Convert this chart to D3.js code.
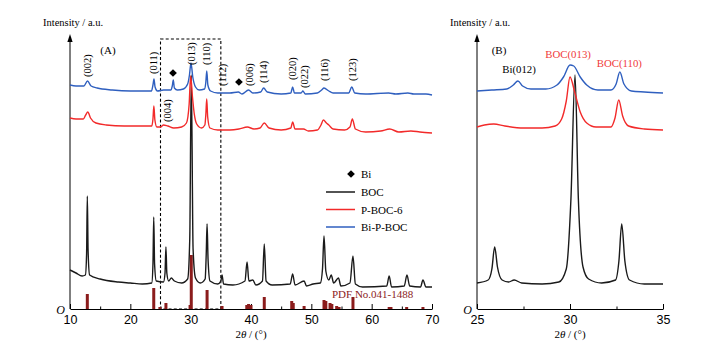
<!DOCTYPE html>
<html>
<head>
<meta charset="utf-8">
<script src="https://cdn.jsdelivr.net/npm/d3@7"></script>
<style>
  body { margin: 0; background: #fff; }
  svg { display: block; font-family: "Liberation Serif", "DejaVu Serif", serif; }
  .axis text { font-size: 12.5px; fill: #000; }
  .axis path, .axis line { stroke: #000; stroke-width: 1; }
</style>
</head>
<body>
<svg width="704" height="350"></svg>
<script>
// series values: [2theta, intensity a.u.]
const bocA = [[10,39],[11,36],[12,33],[12.55,34],[12.75,55],[12.87,113],[13.0,58],[13.25,34],[15,30],[18,27],[20,26],[22,25],[23.55,26],[23.75,45],[23.88,92],[24.02,45],[24.3,28],[25.5,27],[25.75,36],[25.9,62],[26.05,36],[26.35,28],[26.8,31],[27.3,28],[28.5,26],[29.5,30],[29.85,70],[30.1,234],[30.4,60],[30.8,31],[31.6,26],[32.4,30],[32.58,55],[32.72,85],[32.88,50],[33.2,28],[34.5,25],[35.0,28],[35.2,34],[35.45,25],[37,24],[39.0,28],[39.35,47],[39.65,28],[40.3,29],[40.8,24],[41.9,28],[42.2,65],[42.5,28],[43.5,24],[46.5,25],[46.9,35],[47.3,24],[48.8,28],[49.2,23],[50.3,25],[51.5,26],[51.85,40],[52.1,73],[52.4,38],[52.9,29],[53.3,34],[53.7,26],[54.5,31],[54.9,23],[56.4,26],[56.9,53],[57.3,25],[58.5,22],[62.5,23],[62.9,33],[63.3,22],[65.4,23],[65.85,34],[66.3,23],[68.1,22],[68.5,29],[69,22],[70,22]];
const pbocA = [[10,191],[11,190],[12.2,190],[12.6,194],[12.95,197],[13.4,191],[14.3,186],[16,184],[19,183],[22,183],[23.55,183],[23.75,190],[23.9,203],[24.07,189],[24.4,182],[25.0,182],[25.5,184],[26.2,183],[27.2,181],[28.5,182],[29.3,186],[29.75,205],[30.0,233],[30.3,212],[30.6,195],[31.0,185],[31.8,181],[32.35,184],[32.52,195],[32.66,210],[32.82,192],[33.2,181],[34.5,179],[36.5,179],[38,180],[39.4,182],[40.5,180],[41.5,181],[42.2,186],[43,181],[45,179],[46.6,181],[46.9,187],[47.3,180],[48.7,180],[49.5,178],[51,179],[51.6,184],[52.0,189],[52.5,186],[52.9,184],[53.6,180],[55.5,179],[56.4,182],[56.8,190],[57.3,180],[59,177],[61.5,178],[63,180],[64.5,177],[66.5,178],[68,177],[70,176]];
const bipbocA = [[10,224],[11,223],[12.3,223],[12.9,228],[13.5,223],[14.5,221],[17,219],[20,218],[23.5,218],[23.75,224],[23.92,230],[24.1,222],[24.5,218],[25.5,219],[26.7,219],[26.95,223],[27.12,229],[27.3,221],[27.8,219],[28.8,220],[29.5,225],[29.8,234],[30.05,246],[30.35,232],[30.8,222],[31.4,219],[32.3,220],[32.5,226],[32.67,238],[32.85,224],[33.3,218],[34.5,216],[36.5,216],[37.9,217],[38.5,215],[39.6,219],[40.3,216],[41.6,217],[42.1,221],[42.7,217],[45,215],[46.6,216],[46.9,222],[47.2,216],[48.3,216],[48.6,218],[49.0,215],[51,216],[51.7,219],[52.1,221],[52.9,218],[53.6,216],[56.2,216],[56.7,222],[57.2,216],[59,215],[62.8,216],[64,215],[66,216],[67,215],[69,215],[70,214]];
const pdfBars = [[12.87,15],[23.88,21],[24.9,2],[25.9,6],[29.9,4],[30.1,54],[32.72,19],[35.2,3],[39.3,4],[39.6,5],[40.0,4],[42.2,12],[46.75,8],[47.0,6],[48.8,3],[52.1,9],[52.4,8],[53.1,6],[53.4,5],[54.2,3],[54.6,2],[56.9,12],[62.9,2],[63.2,2],[65.8,2],[68.5,2]];

const bocB = [[25,26],[25.6,29],[25.8,40],[25.95,62],[26.1,42],[26.35,29],[26.7,27],[27.0,29],[27.4,26],[28.5,25],[29.4,27],[29.8,40],[30.05,110],[30.27,234],[30.45,110],[30.7,42],[31.0,30],[31.7,26],[32.45,29],[32.63,48],[32.78,85],[32.95,48],[33.2,29],[34,25],[35,25]];
const pbocB = [[25,182],[25.4,184],[25.9,185],[26.5,183],[27.5,181],[28.5,181],[29.2,183],[29.55,190],[29.8,208],[30.0,232],[30.25,217],[30.55,197],[30.9,186],[31.4,182],[32.2,182],[32.42,191],[32.62,209],[32.83,193],[33.15,183],[34,180],[35,179]];
const bipbocB = [[25,218],[25.8,219],[26.6,220],[26.95,224],[27.2,228],[27.45,223],[27.9,220],[28.7,220],[29.3,224],[29.65,232],[30.0,244],[30.2,243],[30.55,232],[30.9,224],[31.5,219],[32.2,219],[32.48,225],[32.68,237],[32.9,225],[33.3,218],[34,217],[35,216]];

// annotations: [label, 2theta, intensity at bottom of the text]
const hklA = [["(002)",12.82,232],["(011)",23.76,235],["(004)",26.08,187],["(013)",30.06,244],["(110)",32.54,244],["(112)",35.3,223],["(006)",39.67,223],["(114)",41.99,226],["(020)",46.8,229],["(022)",48.79,221],["(116)",52.1,228],["(123)",56.74,228]];
const biMarks = [[27.07,236],[38.0,227]];
const hklB = [["Bi(012)",27.26,236,"#000"],["BOC(013)",29.9,251,"#f03a3a"],["BOC(110)",32.65,242,"#f03a3a"]];

const seriesNames = ["BOC", "P-BOC-6", "Bi-P-BOC"];
const seriesColors = ["#1a1a1a", "#f22a2a", "#2f5fbf"];
const ticksA = [10, 20, 30, 40, 50, 60, 70];
const minorA = [15, 25, 35, 45, 55, 65];
const ticksB = [25, 30, 35];
const minorB = [27.5, 32.5];

const svg = d3.select("svg");
const barColor = "#8b1c1c";

const y = d3.scaleLinear().domain([0, 275]).range([309, 34]);
const xA = d3.scaleLinear().domain([10, 70]).range([70, 432]);
const xB = d3.scaleLinear().domain([25, 35]).range([477, 663]);

function drawFrame(x, ticks, minor, labelX) {
    const g = svg.append("g");
    // minor ticks
    g.append("g")
        .attr("class", "axis")
        .attr("transform", `translate(0,${y(0)})`)
        .call(d3.axisBottom(x).tickValues(minor).tickSize(-2.5).tickFormat(""))
        .call(a => a.select(".domain").remove());
    // major ticks + labels
    g.append("g")
        .attr("class", "axis")
        .attr("transform", `translate(0,${y(0)})`)
        .call(d3.axisBottom(x).tickValues(ticks).tickSizeInner(-5).tickSizeOuter(0).tickPadding(6).tickFormat(d3.format("d")));

    // y axis with arrow
    const x0 = x.range()[0];
    g.append("line")
        .attr("x1", x0).attr("x2", x0)
        .attr("y1", y(0)).attr("y2", 40)
        .attr("stroke", "#000");
    g.append("path")
        .attr("d", `M${x0},34 L${x0 - 2.6},42 L${x0 + 2.6},42 Z`)
        .attr("fill", "#000");

    g.append("text")
        .attr("x", x0 - 5).attr("y", y(0) + 4.5)
        .attr("text-anchor", "end")
        .style("font-style", "italic")
        .style("font-size", "12px")
        .text("O");

    g.append("text")
        .attr("x", x0 - 27).attr("y", 26)
        .style("font-size", "10.5px")
        .text("Intensity / a.u.");

    const xl = g.append("text")
        .attr("x", labelX).attr("y", 337.5)
        .attr("text-anchor", "middle")
        .style("font-size", "11px");
    xl.append("tspan").text("2");
    xl.append("tspan").style("font-style", "italic").text("θ");
    xl.append("tspan").text(" / (°)");
    return g;
}

function drawSeries(x, list) {
    const line = d3.line()
        .x(d => x(d[0]))
        .y(d => y(d[1]))
        .curve(d3.curveMonotoneX);
    list.forEach((s, i) => {
        svg.append("path")
            .datum(s)
            .attr("d", line)
            .attr("fill", "none")
            .attr("stroke", seriesColors[i])
            .attr("stroke-width", 1.4)
            .attr("stroke-linejoin", "round");
    });
}

// ---------- panel A ----------
drawFrame(xA, ticksA, minorA, 251);

// dashed zoom box 25-35
svg.append("rect")
    .attr("x", xA(25)).attr("y", 39)
    .attr("width", xA(35) - xA(25))
    .attr("height", y(0) - 39)
    .attr("fill", "none")
    .attr("stroke", "#000")
    .attr("stroke-width", 1.1)
    .attr("stroke-dasharray", "3,2.2");

// PDF reference bars
svg.append("g").selectAll("rect")
    .data(pdfBars)
    .enter().append("rect")
    .attr("x", d => xA(d[0]) - 1.5)
    .attr("y", d => y(d[1]))
    .attr("width", 3)
    .attr("height", d => y(0) - y(d[1]))
    .attr("fill", barColor);

drawSeries(xA, [bocA, pbocA, bipbocA]);

svg.append("text")
    .attr("x", 332).attr("y", 298)
    .style("font-size", "11px")
    .attr("fill", barColor)
    .text("PDF No.041-1488");

svg.append("text")
    .attr("x", 108).attr("y", 54)
    .attr("text-anchor", "middle")
    .style("font-size", "11px")
    .text("(A)");

// Miller index labels, rotated
svg.append("g").selectAll("text")
    .data(hklA)
    .enter().append("text")
    .attr("transform", d => `translate(${xA(d[1])},${y(d[2])}) rotate(-90)`)
    .attr("dy", "0.35em")
    .style("font-size", "10.5px")
    .text(d => d[0]);

const diamond = d3.symbol().type(d3.symbolSquare).size(30);
svg.append("g").selectAll("path")
    .data(biMarks)
    .enter().append("path")
    .attr("d", diamond)
    .attr("transform", d => `translate(${xA(d[0])},${y(d[1])}) rotate(45)`)
    .attr("fill", "#000");

// legend
const legend = svg.append("g").attr("transform", "translate(326,174)");
legend.append("path")
    .attr("d", diamond)
    .attr("transform", "translate(25,0) rotate(45)")
    .attr("fill", "#000");
legend.append("text")
    .attr("x", 35).attr("y", 4)
    .style("font-size", "11px")
    .text("Bi");
seriesNames.forEach((name, i) => {
    const yy = 18 + i * 17.5;
    legend.append("line")
        .attr("x1", 0).attr("x2", 29)
        .attr("y1", yy).attr("y2", yy)
        .attr("stroke", seriesColors[i])
        .attr("stroke-width", 1.5);
    legend.append("text")
        .attr("x", 35).attr("y", yy + 4)
        .style("font-size", "11px")
        .text(name);
});

// ---------- panel B ----------
drawFrame(xB, ticksB, minorB, 570);
drawSeries(xB, [bocB, pbocB, bipbocB]);

svg.append("text")
    .attr("x", 499).attr("y", 54)
    .attr("text-anchor", "middle")
    .style("font-size", "11px")
    .text("(B)");

svg.append("g").selectAll("text")
    .data(hklB)
    .enter().append("text")
    .attr("x", d => xB(d[1]))
    .attr("y", d => y(d[2]))
    .attr("text-anchor", "middle")
    .attr("fill", d => d[3])
    .style("font-size", "10.8px")
    .text(d => d[0]);
</script>
</body>
</html>
